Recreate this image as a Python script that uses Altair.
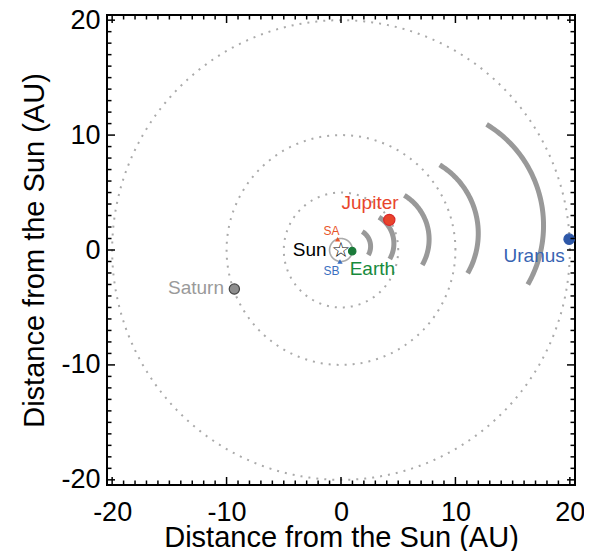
import altair as alt
import numpy as np
import pandas as pd

# ---------------- data ----------------
orbit_radii_solid = [1.0]
orbit_radii_dotted = [5.0, 10.0, 20.0]

# CME-like fronts: tip distance from Sun (AU)
arc_tip = [2.63, 4.7, 7.83, 12.2, 18.0]
arc_dir_deg = 16.0
arc_center_frac = 0.43
arc_theta_start = -30.0
arc_theta_end = 59.0

body_names = ["Jupiter", "Earth", "Saturn", "Uranus"]
body_x = [4.22, 0.98, -9.32, 19.94]
body_y = [2.62, -0.10, -3.40, 0.94]
body_fill = ["#E8442B", "#1B7A3A", "#8E8E8E", "#2E58A8"]
body_stroke = ["#D9262A", "#1B7A3A", "#444444", "#2E58A8"]
body_size = [125, 55, 105, 110]

sun_x = [0.0]
sun_y = [0.0]
sun_glyph = ["\u2606"]

sc_names = ["SA", "SB"]
sc_x = [-0.29, -0.09]
sc_y = [0.94, -1.0]
sc_color = ["#E8552A", "#3A6FC0"]

label_text = ["Jupiter", "Earth", "Sun", "Saturn", "Uranus", "SA", "SB"]
label_x = [2.54, 2.74, -2.74, -12.67, 16.88, -0.84, -0.84]
label_y = [4.06, -1.63, 0.02, -3.28, -0.50, 1.69, -1.84]
label_color = ["#E8452C", "#178A3C", "#000000", "#9A9A9A", "#3763B2", "#E8552A", "#3A6FC0"]
label_size = [19, 19, 19, 19, 19, 12, 12]

major_ticks = [-20, -10, 0, 10, 20]
minor_ticks = [v for v in range(-20, 21) if v % 10 != 0]

FONT = "Liberation Sans"
W, H = 468, 470
DOM = [-20.45, 20.45]

def circle_df(radii):
    rows = []
    ang = np.linspace(0, 2 * np.pi, 361)
    for k, r in enumerate(radii):
        for i, a in enumerate(ang):
            rows.append({"id": int(k), "i": int(i), "x": float(r * np.cos(a)), "y": float(r * np.sin(a))})
    return pd.DataFrame(rows)

def arc_df():
    rows = []
    d = np.radians(arc_dir_deg)
    th = np.radians(np.linspace(arc_theta_start, arc_theta_end, 80))
    for k, tip in enumerate(arc_tip):
        cd = arc_center_frac * tip
        R = tip - cd
        cx, cy = cd * np.cos(d), cd * np.sin(d)
        for i, t in enumerate(th):
            rows.append({"id": int(k), "i": int(i), "x": float(cx + R * np.cos(t)), "y": float(cy + R * np.sin(t))})
    return pd.DataFrame(rows)

xs = alt.Scale(domain=DOM, nice=False, zero=False)
ys = alt.Scale(domain=DOM, nice=False, zero=False)
TITLE = "Distance from the Sun (AU)"

xaxis = alt.Axis(values=major_ticks, ticks=False, domain=False, grid=False,
                 labelFontSize=27, labelFont=FONT, labelColor="black", labelPadding=14,
                 labelExpr="'' + datum.value", labelFlush=False, labelOverlap=False,
                 title=TITLE, titleFont=FONT, titleFontSize=29,
                 titleFontWeight="normal", titleColor="black",
                 titleY=61, titleBaseline="alphabetic")
yaxis = alt.Axis(values=major_ticks, ticks=False, domain=False, grid=False,
                 labelFontSize=27, labelFont=FONT, labelColor="black", labelPadding=7,
                 labelExpr="'' + datum.value", labelFlush=False, labelOverlap=False,
                 title=TITLE, titleFont=FONT, titleFontSize=29,
                 titleFontWeight="normal", titleColor="black",
                 titleX=-73, titleY=H / 2,
                 titleBaseline="middle", titleAlign="center")

def X(field="x"):
    return alt.X(f"{field}:Q", scale=xs, axis=xaxis, title=TITLE)

def Y(field="y"):
    return alt.Y(f"{field}:Q", scale=ys, axis=yaxis, title=TITLE)

layers = []
layers.append(
    alt.Chart(circle_df(orbit_radii_dotted)).mark_line(
        color="#AAAAAA", strokeWidth=2, strokeDash=[2, 6]
    ).encode(x=X(), y=Y(), detail="id:N", order="i:Q")
)
layers.append(
    alt.Chart(circle_df(orbit_radii_solid)).mark_line(color="#AAAAAA", strokeWidth=1.6).encode(
        x=X(), y=Y(), detail="id:N", order="i:Q")
)
layers.append(
    alt.Chart(arc_df()).mark_line(color="#999999", strokeWidth=5).encode(
        x=X(), y=Y(), detail="id:N", order="i:Q")
)
bodies = pd.DataFrame({"name": body_names, "x": body_x, "y": body_y,
                       "fill": body_fill, "stroke": body_stroke, "size": body_size})
layers.append(
    alt.Chart(bodies).mark_circle(opacity=1, strokeWidth=1.2).encode(
        x=X(), y=Y(),
        fill=alt.Fill("fill:N", scale=None),
        stroke=alt.Stroke("stroke:N", scale=None),
        size=alt.Size("size:Q", scale=None),
    )
)
sc = pd.DataFrame({"name": sc_names, "x": sc_x, "y": sc_y, "c": sc_color})
layers.append(
    alt.Chart(sc).mark_point(shape="triangle-up", filled=True, size=28, opacity=1).encode(
        x=X(), y=Y(), color=alt.Color("c:N", scale=None))
)
# Sun symbol as a star glyph
layers.append(
    alt.Chart(pd.DataFrame({"x": sun_x, "y": sun_y, "g": sun_glyph})).mark_text(
        font="DejaVu Sans", fontSize=21, color="black", baseline="middle", align="center", dy=1
    ).encode(x=X(), y=Y(), text="g:N")
)
labels = pd.DataFrame({"t": label_text, "x": label_x, "y": label_y,
                       "c": label_color, "s": label_size})
layers.append(
    alt.Chart(labels).mark_text(font=FONT, align="center", baseline="middle").encode(
        x=X(), y=Y(), text="t:N",
        color=alt.Color("c:N", scale=None),
        size=alt.Size("s:Q", scale=None),
    )
)

def tick_layers(vals, L):
    df = pd.DataFrame({"v": [float(v) for v in vals]})
    out = []
    rule = dict(color="black", strokeWidth=1.5)
    out.append(alt.Chart(df).mark_rule(**rule).encode(
        x=X("v"), y=alt.value(H), y2=alt.value(H - L)))
    out.append(alt.Chart(df).mark_rule(**rule).encode(
        x=X("v"), y=alt.value(0), y2=alt.value(L)))
    out.append(alt.Chart(df).mark_rule(**rule).encode(
        y=Y("v"), x=alt.value(0), x2=alt.value(L)))
    out.append(alt.Chart(df).mark_rule(**rule).encode(
        y=Y("v"), x=alt.value(W), x2=alt.value(W - L)))
    return out

layers += tick_layers(major_ticks, 8)
layers += tick_layers(minor_ticks, 4.5)

chart = alt.layer(*layers).properties(
    width=W, height=H,
    autosize=alt.AutoSizeParams(type="none"),
    padding={"left": 99, "top": 7, "right": 9, "bottom": 66},
    background="white",
).configure_view(stroke="black", strokeWidth=2)

chart.save("out.html", embed_options={"renderer": "svg", "actions": False})
